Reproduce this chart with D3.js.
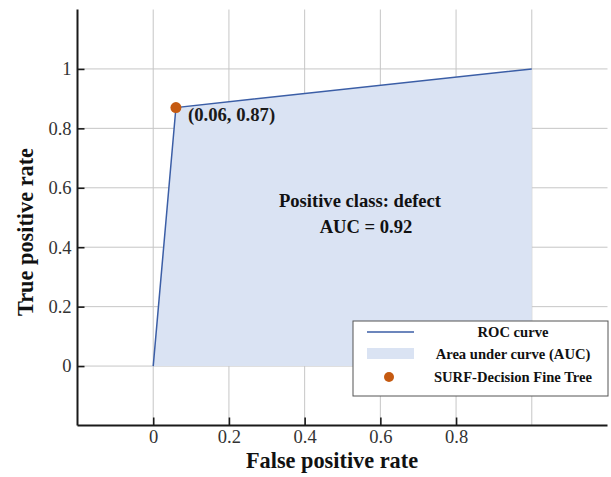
<!DOCTYPE html>
<html>
<head>
<meta charset="utf-8">
<script src="https://cdn.jsdelivr.net/npm/d3@7"></script>
<style>
  html, body { margin: 0; padding: 0; background: #fff; }
  svg { display: block; font-family: "Liberation Serif", "Times New Roman", serif; }
</style>
</head>
<body>
<svg id="chart" width="611" height="477"></svg>
<script>
// ROC curve points (false positive rate, true positive rate)
const rocFpr = [0, 0.06, 1];
const rocTpr = [0, 0.87, 1];
// operating point of the classifier
const opPoint = [0.06, 0.87];
const opLabel = "(0.06, 0.87)";
const aucValue = 0.92;
const positiveClass = "defect";

const xTicks = [0, 0.2, 0.4, 0.6, 0.8];
const xGrid = [0, 0.2, 0.4, 0.6, 0.8, 1];
const yTicks = [0, 0.2, 0.4, 0.6, 0.8, 1];

const legendLabels = ["ROC curve", "Area under curve (AUC)", "SURF-Decision Fine Tree"];

const svg = d3.select("#chart");

const x = d3.scaleLinear().domain([-0.2, 1.2]).range([77.5, 607.5]);
const y = d3.scaleLinear().domain([-0.2, 1.2]).range([425.5, 9.5]);

const gridColor = "#c6c6c6";
const axisColor = "#1a1a1a";
const serif = "'Liberation Serif', 'Times New Roman', serif";

// grid lines
svg.append("g").selectAll("line").data(xGrid).join("line")
  .attr("x1", d => x(d)).attr("x2", d => x(d))
  .attr("y1", y(1.2)).attr("y2", y(-0.2))
  .attr("stroke", gridColor).attr("stroke-width", 1);
svg.append("g").selectAll("line").data(yTicks).join("line")
  .attr("x1", x(-0.2)).attr("x2", x(1.2))
  .attr("y1", d => y(d)).attr("y2", d => y(d))
  .attr("stroke", gridColor).attr("stroke-width", 1);

// area under the curve
const pts = rocFpr.map((f, i) => [f, rocTpr[i]]);
svg.append("path")
  .datum(pts)
  .attr("d", d3.area().x(d => x(d[0])).y0(y(0)).y1(d => y(d[1])))
  .attr("fill", "#dae3f3");

// ROC line
svg.append("path")
  .datum(pts)
  .attr("d", d3.line().x(d => x(d[0])).y(d => y(d[1])))
  .attr("fill", "none")
  .attr("stroke", "#3b5ea6")
  .attr("stroke-width", 1.5);

// axes (inward ticks, left and bottom only)
const xAxis = d3.axisBottom(x).tickValues(xTicks).tickSize(-8).tickPadding(4)
  .tickFormat(d3.format("~g"));
const gx = svg.append("g").attr("transform", `translate(0,${y(-0.2)})`).call(xAxis);
const yAxis = d3.axisLeft(y).tickValues(yTicks).tickSize(-7).tickPadding(6)
  .tickFormat(d3.format("~g"));
const gy = svg.append("g").attr("transform", `translate(${x(-0.2)},0)`).call(yAxis);

[gx, gy].forEach(g => {
  g.attr("font-family", serif).attr("font-size", 18.5);
  g.select(".domain").attr("stroke", axisColor).attr("stroke-width", 2);
  g.selectAll(".tick line").attr("stroke", axisColor).attr("stroke-width", 1.6);
  g.selectAll(".tick text").attr("fill", "#333");
});
gx.select(".domain").attr("d", `M${x(-0.2)},0H${x(1.2)}`);
gy.select(".domain").attr("d", `M0,${y(-0.2)}V${y(1.2)}`);

// operating point and its label
svg.append("circle")
  .attr("cx", x(opPoint[0])).attr("cy", y(opPoint[1]))
  .attr("r", 5.5).attr("fill", "#c55a11");
svg.append("text")
  .attr("x", x(opPoint[0]) + 12).attr("y", y(opPoint[1]) + 13)
  .attr("font-weight", "bold").attr("font-size", "18.7px").attr("fill", "#1a1a1a")
  .text(opLabel);

// annotation inside the area
svg.append("text")
  .attr("x", 360).attr("y", 207)
  .attr("text-anchor", "middle")
  .attr("font-weight", "bold").attr("font-size", "18.6px").attr("fill", "#111")
  .text(`Positive class: ${positiveClass}`);
svg.append("text")
  .attr("x", 366).attr("y", 233)
  .attr("text-anchor", "middle")
  .attr("font-weight", "bold").attr("font-size", "18.6px").attr("fill", "#111")
  .text(`AUC = ${aucValue}`);

// axis titles
svg.append("text")
  .attr("x", 332).attr("y", 468)
  .attr("text-anchor", "middle")
  .attr("font-weight", "bold").attr("font-size", "22.3px").attr("fill", "#111")
  .text("False positive rate");
svg.append("text")
  .attr("transform", "translate(33,232) rotate(-90)")
  .attr("text-anchor", "middle")
  .attr("font-weight", "bold").attr("font-size", "22.3px").attr("fill", "#111")
  .text("True positive rate");

// legend
const lg = svg.append("g");
lg.append("rect")
  .attr("x", 353).attr("y", 321).attr("width", 255).attr("height", 75)
  .attr("fill", "#fff").attr("stroke", "#555").attr("stroke-width", 1);
const rowY = [332, 353.5, 376.5];
lg.append("line")
  .attr("x1", 367).attr("x2", 414).attr("y1", rowY[0]).attr("y2", rowY[0])
  .attr("stroke", "#3b5ea6").attr("stroke-width", 1.5);
lg.append("rect")
  .attr("x", 367).attr("y", rowY[1] - 5.5).attr("width", 47).attr("height", 11)
  .attr("fill", "#dae3f3");
lg.append("circle")
  .attr("cx", 389).attr("cy", rowY[2] + 0.5).attr("r", 5)
  .attr("fill", "#c55a11");
lg.selectAll("text.lbl").data(legendLabels).join("text")
  .attr("class", "lbl")
  .attr("x", 513).attr("y", (d, i) => rowY[i] + 5)
  .attr("text-anchor", "middle")
  .attr("font-weight", "bold").attr("font-size", "14.6px").attr("fill", "#111")
  .text(d => d);
</script>
</body>
</html>
